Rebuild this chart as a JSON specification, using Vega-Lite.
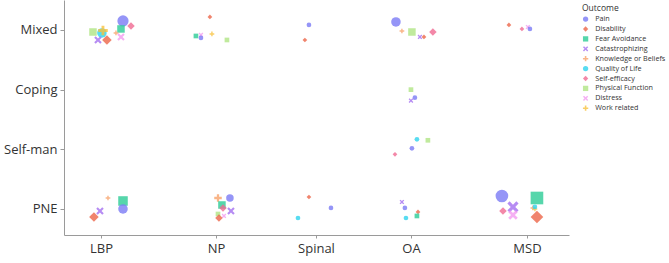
{
  "$schema": "https://vega.github.io/schema/vega-lite/v6.json",
  "autosize": "none",
  "width": 505,
  "height": 235,
  "padding": {"left": 64, "top": 0, "right": 100, "bottom": 28},
  "background": "white",
  "config": {
    "font": "Open Sans",
    "view": {"stroke": null},
    "axis": {"grid": false, "domainColor": "#9a9a9a", "tickColor": "#9a9a9a", "labelColor": "#333333", "labelFontSize": 13, "tickSize": 4}
  },
  "data": {"values": [
    {"x": 0.925, "y": 3.966, "o": "Physical Function", "n": 2},
    {"x": 1.009, "y": 3.950, "o": "Quality of Life", "n": 3},
    {"x": 1.019, "y": 3.990, "o": "Work related", "n": 3},
    {"x": 0.972, "y": 3.832, "o": "Catastrophizing", "n": 2},
    {"x": 1.056, "y": 3.832, "o": "Disability", "n": 3},
    {"x": 1.207, "y": 4.151, "o": "Pain", "n": 4},
    {"x": 1.188, "y": 4.017, "o": "Fear Avoidance", "n": 2},
    {"x": 1.282, "y": 4.067, "o": "Self-efficacy", "n": 2},
    {"x": 1.188, "y": 3.883, "o": "Distress", "n": 2},
    {"x": 1.141, "y": 3.950, "o": "Knowledge or Beliefs", "n": 1},
    {"x": 2.023, "y": 4.218, "o": "Disability", "n": 1},
    {"x": 1.892, "y": 3.899, "o": "Fear Avoidance", "n": 1},
    {"x": 1.939, "y": 3.916, "o": "Distress", "n": 1},
    {"x": 1.939, "y": 3.866, "o": "Pain", "n": 1},
    {"x": 2.042, "y": 3.933, "o": "Work related", "n": 1},
    {"x": 2.183, "y": 3.832, "o": "Physical Function", "n": 1},
    {"x": 2.953, "y": 4.084, "o": "Pain", "n": 1},
    {"x": 2.915, "y": 3.832, "o": "Disability", "n": 1},
    {"x": 3.770, "y": 4.134, "o": "Pain", "n": 3},
    {"x": 3.826, "y": 3.983, "o": "Knowledge or Beliefs", "n": 1},
    {"x": 3.920, "y": 3.966, "o": "Physical Function", "n": 2},
    {"x": 3.995, "y": 3.883, "o": "Catastrophizing", "n": 1},
    {"x": 4.033, "y": 3.883, "o": "Disability", "n": 1},
    {"x": 4.117, "y": 3.966, "o": "Self-efficacy", "n": 2},
    {"x": 4.831, "y": 4.084, "o": "Disability", "n": 1},
    {"x": 4.953, "y": 4.017, "o": "Self-efficacy", "n": 1},
    {"x": 5.009, "y": 4.050, "o": "Distress", "n": 1},
    {"x": 5.028, "y": 4.017, "o": "Pain", "n": 1},
    {"x": 3.911, "y": 3.000, "o": "Physical Function", "n": 1},
    {"x": 3.948, "y": 2.866, "o": "Pain", "n": 1},
    {"x": 3.911, "y": 2.816, "o": "Catastrophizing", "n": 1},
    {"x": 3.967, "y": 2.168, "o": "Quality of Life", "n": 1},
    {"x": 4.070, "y": 2.151, "o": "Physical Function", "n": 1},
    {"x": 3.920, "y": 2.017, "o": "Pain", "n": 1},
    {"x": 3.761, "y": 1.916, "o": "Self-efficacy", "n": 1},
    {"x": 1.066, "y": 1.184, "o": "Knowledge or Beliefs", "n": 1},
    {"x": 1.207, "y": 1.134, "o": "Fear Avoidance", "n": 3},
    {"x": 1.207, "y": 1.000, "o": "Pain", "n": 3},
    {"x": 0.991, "y": 0.966, "o": "Catastrophizing", "n": 2},
    {"x": 0.934, "y": 0.866, "o": "Disability", "n": 3},
    {"x": 2.099, "y": 1.184, "o": "Knowledge or Beliefs", "n": 2},
    {"x": 2.211, "y": 1.184, "o": "Pain", "n": 2},
    {"x": 2.136, "y": 1.067, "o": "Fear Avoidance", "n": 2},
    {"x": 2.146, "y": 1.017, "o": "Self-efficacy", "n": 2},
    {"x": 2.221, "y": 0.966, "o": "Catastrophizing", "n": 2},
    {"x": 2.099, "y": 0.916, "o": "Physical Function", "n": 1},
    {"x": 2.155, "y": 0.883, "o": "Distress", "n": 1},
    {"x": 2.108, "y": 0.849, "o": "Disability", "n": 2},
    {"x": 2.953, "y": 1.201, "o": "Disability", "n": 1},
    {"x": 3.160, "y": 1.017, "o": "Pain", "n": 1},
    {"x": 2.850, "y": 0.849, "o": "Quality of Life", "n": 1},
    {"x": 3.826, "y": 1.117, "o": "Catastrophizing", "n": 1},
    {"x": 3.854, "y": 1.017, "o": "Pain", "n": 1},
    {"x": 3.864, "y": 0.849, "o": "Quality of Life", "n": 1},
    {"x": 3.977, "y": 0.950, "o": "Disability", "n": 1},
    {"x": 3.967, "y": 0.883, "o": "Fear Avoidance", "n": 1},
    {"x": 4.765, "y": 1.218, "o": "Pain", "n": 5},
    {"x": 4.869, "y": 1.034, "o": "Catastrophizing", "n": 4},
    {"x": 4.775, "y": 0.966, "o": "Self-efficacy", "n": 2},
    {"x": 4.869, "y": 0.899, "o": "Distress", "n": 3},
    {"x": 5.094, "y": 1.184, "o": "Fear Avoidance", "n": 5},
    {"x": 5.094, "y": 0.866, "o": "Disability", "n": 5},
    {"x": 5.056, "y": 1.017, "o": "Knowledge or Beliefs", "n": 1},
    {"x": 5.075, "y": 1.000, "o": "Work related", "n": 1},
    {"x": 5.075, "y": 1.034, "o": "Quality of Life", "n": 1}
  ]},
  "mark": {"type": "point", "filled": true, "opacity": 0.8},
  "encoding": {
    "x": {"field": "x", "type": "quantitative", "scale": {"domain": [0.653, 5.395], "nice": false, "zero": false},
      "axis": {"title": null, "values": [1, 2.08, 3.019, 3.911, 5], "labelExpr": "['', 'LBP', 'NP', 'Spinal', 'OA', 'MSD'][round(datum.value)]", "labelPadding": 4, "tickSize": 3}},
    "y": {"field": "y", "type": "quantitative", "scale": {"domain": [0.564, 4.502], "nice": false, "zero": false},
      "axis": {"title": null, "values": [1, 2, 3, 4], "labelExpr": "['', 'PNE', 'Self-man', 'Coping', 'Mixed'][datum.value]", "labelPadding": 3}},
    "color": {"field": "o", "type": "nominal",
      "scale": {"domain": ["Pain", "Disability", "Fear Avoidance", "Catastrophizing", "Knowledge or Beliefs", "Quality of Life", "Self-efficacy", "Physical Function", "Distress", "Work related"],
        "range": ["#7b7bf5", "#ec6548", "#2ccc96", "#a46ff0", "#f7a36a", "#2ed3ee", "#f06a92", "#b0e585", "#f29cf0", "#f7c23e"]},
      "legend": {"title": "Outcome", "orient": "none", "legendX": 518, "legendY": 4, "titleFontSize": 8.5, "titleFontWeight": "normal", "titleColor": "#333333", "titlePadding": 3, "labelFontSize": 7.2, "labelColor": "#333333", "rowPadding": 1.9, "symbolSize": 28, "labelOffset": 6}},
    "shape": {"field": "o", "type": "nominal",
      "scale": {"domain": ["Pain", "Disability", "Fear Avoidance", "Catastrophizing", "Knowledge or Beliefs", "Quality of Life", "Self-efficacy", "Physical Function", "Distress", "Work related"],
        "range": ["circle", "diamond", "square", "M-1,-0.6L-0.6,-1L0,-0.4L0.6,-1L1,-0.6L0.4,0L1,0.6L0.6,1L0,0.4L-0.6,1L-1,0.6L-0.4,0Z", "M-1,-0.3H-0.3V-1H0.3V-0.3H1V0.3H0.3V1H-0.3V0.3H-1Z", "circle", "diamond", "square", "M-1,-0.6L-0.6,-1L0,-0.4L0.6,-1L1,-0.6L0.4,0L1,0.6L0.6,1L0,0.4L-0.6,1L-1,0.6L-0.4,0Z", "M-1,-0.3H-0.3V-1H0.3V-0.3H1V0.3H0.3V1H-0.3V0.3H-1Z"]}},
    "size": {"field": "n", "type": "quantitative", "scale": {"domain": [1, 5], "range": [22, 160], "zero": false}, "legend": null}
  }
}
